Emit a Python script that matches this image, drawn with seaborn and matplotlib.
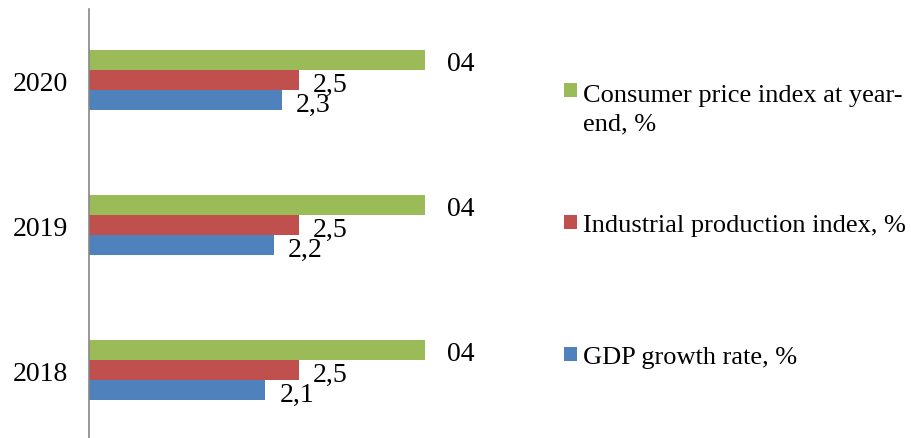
import numpy as np
import pandas as pd
import matplotlib
matplotlib.use('Agg')
import matplotlib.pyplot as plt
from matplotlib.patches import Patch, Rectangle
from matplotlib.legend_handler import HandlerPatch
import seaborn as sns

# -------------------------------------------------------
# Data
# -------------------------------------------------------
years = ["2020", "2019", "2018"]
cpi = [4.0, 4.0, 4.0]
industrial = [2.5, 2.5, 2.5]
gdp = [2.3, 2.2, 2.1]
cpi_labels = ["04", "04", "04"]

series_names = ["Consumer price index at year-\nend, %",
                "Industrial production index, %",
                "GDP growth rate, %"]
series_colors = ["#9BBB59", "#C0504D", "#4F81BD"]

df = pd.DataFrame({
    "year": years * 3,
    "series": [series_names[0]] * 3 + [series_names[1]] * 3 + [series_names[2]] * 3,
    "value": cpi + industrial + gdp,
})

# -------------------------------------------------------
# Plot
# -------------------------------------------------------
sns.set_style("white")
plt.rcParams['font.family'] = ['Liberation Serif', 'DejaVu Serif']
plt.rcParams['text.color'] = 'black'
plt.rcParams['ytick.color'] = 'black'
FS = 20
LEG_FS = 19
LINESP = 1.4

fig = plt.figure(figsize=(9.12, 4.39), dpi=100)
ax = fig.add_axes([89 / 912, 0, 420 / 912, 429 / 439])

sns.barplot(data=df, y="year", x="value", hue="series",
            order=years, hue_order=series_names,
            palette=series_colors, orient="h", width=0.42,
            saturation=1, legend=False, linewidth=0, ax=ax)

ax.set_xlim(0, 5)
ax.set_ylim(2.469, -0.49)
ax.set_xlabel("")
ax.set_ylabel("")
ax.set_xticks([])
ax.tick_params(axis="y", length=0, pad=15, labelsize=FS, labelcolor="black")

for side in ["top", "right", "bottom"]:
    ax.spines[side].set_visible(False)
ax.spines["left"].set_color("#868686")
ax.spines["left"].set_linewidth(1.2)

# value labels, comma as decimal sign
def comma(v):
    return f"{v:.1f}".replace(".", ",")

label_sets = [
    (ax.containers[0], cpi_labels, 16),
    (ax.containers[1], [comma(v) for v in industrial], 10),
    (ax.containers[2], [comma(v) for v in gdp], 10),
]
for cont, labs, pad in label_sets:
    anns = ax.bar_label(cont, labels=labs, padding=pad, fontsize=FS,
                        color="black")
    for a in anns:
        a.xyann = (pad, -3)

# legend handle sitting on the first text line (Excel style)
def top_line_patch(legend, orig_handle, xdescent, ydescent, width, height, fontsize):
    shift = fontsize * LINESP / 2
    return Rectangle((-xdescent, -ydescent + shift), width, height)

legend_y = [110, 226, 358]
for name, color, ypx in zip(series_names, series_colors, legend_y):
    hmap = {}
    if "\n" in name:
        hmap = {Patch: HandlerPatch(patch_func=top_line_patch)}
    leg = fig.legend(handles=[Patch(facecolor=color, edgecolor="none")],
                     labels=[name], loc="center left",
                     bbox_to_anchor=(564 / 912, 1 - ypx / 439),
                     frameon=False, fontsize=LEG_FS, borderpad=0,
                     borderaxespad=0, handlelength=0.5, handleheight=0.43,
                     handletextpad=0.22, handler_map=hmap)
    leg.get_texts()[0].set_linespacing(LINESP)

fig.savefig("out.png", dpi=100)
